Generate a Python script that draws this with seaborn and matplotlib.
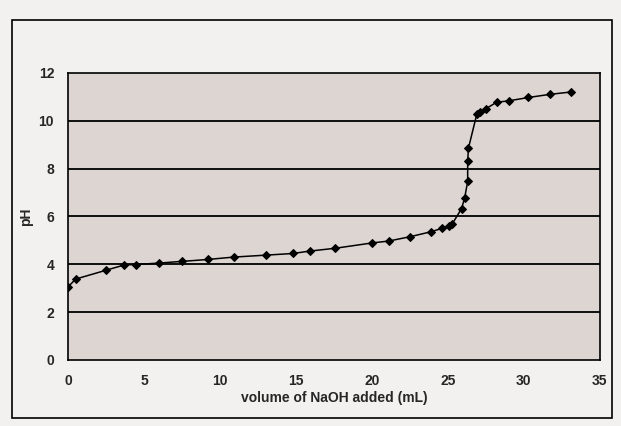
import matplotlib
matplotlib.use("Agg")
import matplotlib.pyplot as plt
from matplotlib.patches import Rectangle
import seaborn as sns
import pandas as pd

# titration curve
volume_ml = [0.0, 0.5, 2.5, 3.7, 4.5, 6.0, 7.5, 9.2, 10.9, 13.0, 14.8, 15.9, 17.6,
             20.0, 21.1, 22.5, 23.9, 24.6, 25.1, 25.3, 25.9, 26.1, 26.3, 26.3, 26.35,
             26.9, 27.1, 27.5, 28.2, 29.0, 30.3, 31.7, 33.1]
ph_values = [3.05, 3.38, 3.75, 3.97, 3.99, 4.05, 4.12, 4.2, 4.3, 4.38, 4.45, 4.55, 4.67,
             4.89, 4.97, 5.15, 5.36, 5.5, 5.6, 5.7, 6.33, 6.77, 7.46, 8.3, 8.85,
             10.27, 10.35, 10.5, 10.77, 10.83, 10.97, 11.1, 11.2]
x_ticks = [0, 5, 10, 15, 20, 25, 30, 35]
y_ticks = [0, 2, 4, 6, 8, 10, 12]

df = pd.DataFrame({"volume": volume_ml, "pH": ph_values})

sns.set_style("white")
plt.rcParams["font.family"] = ["Liberation Sans", "DejaVu Sans"]

fig = plt.figure(figsize=(6.21, 4.26), dpi=100, facecolor="#f3f1f0")
ax = fig.add_axes([0.1095, 0.155, 0.8565, 0.674])
ax.set_facecolor("#ddd5d2")

# chart border
fig.patches.append(Rectangle((12 / 621, 8 / 426), 600 / 621, 398 / 426,
                             transform=fig.transFigure, fill=False,
                             edgecolor="black", linewidth=1.2))

for y in y_ticks[1:-1]:
    ax.axhline(y, color="black", linewidth=1.3, zorder=1)

# estimator=None so repeated volumes near the endpoint keep their own points
sns.lineplot(data=df, x="volume", y="pH", sort=False, estimator=None, ax=ax,
             color="black", linewidth=1.1, marker="D", markersize=4.5,
             markeredgecolor="black", zorder=3)

ax.set_xlim(0, 35)
ax.set_ylim(0, 12)
ax.set_xticks(x_ticks)
ax.set_yticks(y_ticks)
ax.tick_params(axis="both", direction="out", length=4, width=1, color="black",
               labelsize=10, pad=6)
for lbl in ax.get_xticklabels() + ax.get_yticklabels():
    lbl.set_fontweight("bold")
for s in ax.spines.values():
    s.set_color("black")
    s.set_linewidth(1.2)

ax.set_xlabel("volume of NaOH added (mL)", fontsize=10, fontweight="bold", labelpad=2)
ax.set_ylabel("pH", fontsize=10, fontweight="bold", labelpad=4)

fig.savefig("out.png", dpi=100, facecolor=fig.get_facecolor())
